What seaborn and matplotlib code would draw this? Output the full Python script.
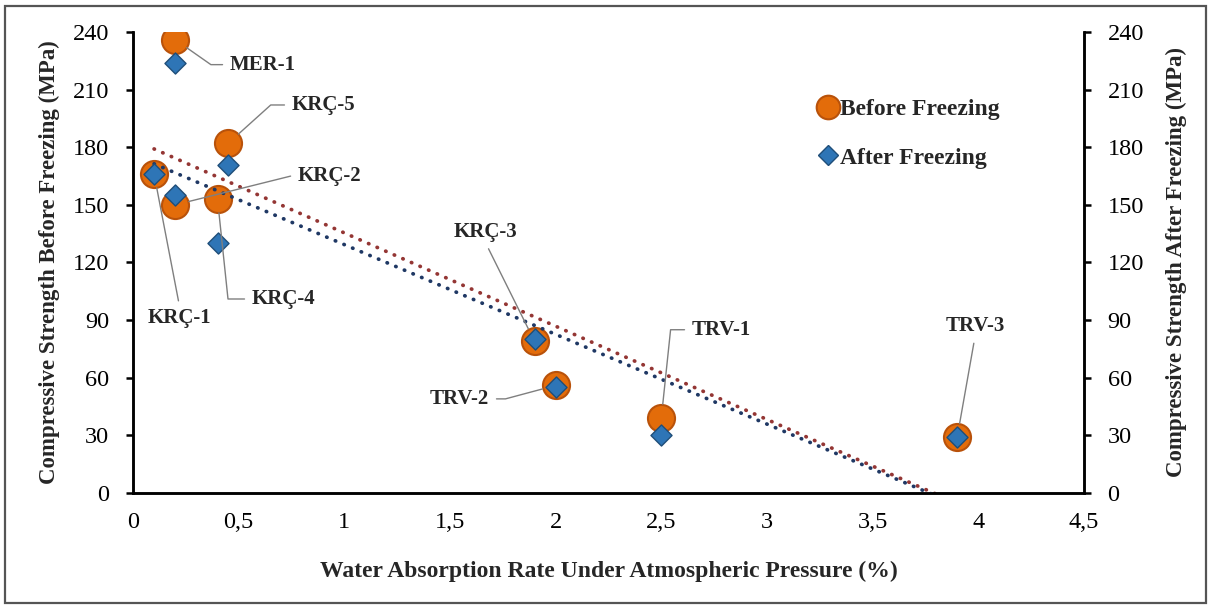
import numpy as np
import pandas as pd
import seaborn as sns
import matplotlib.pyplot as plt
from matplotlib.lines import Line2D
from matplotlib.patches import Rectangle

samples = ['MER-1', 'KRÇ-5', 'KRÇ-1', 'KRÇ-2', 'KRÇ-4', 'KRÇ-3', 'TRV-2', 'TRV-1', 'TRV-3']
water_abs = [0.2, 0.45, 0.1, 0.2, 0.4, 1.9, 2.0, 2.5, 3.9]
before_frz = [236, 182, 166, 150, 153, 79, 56, 39, 29]
after_frz = [224, 171, 166, 155, 130, 80, 55, 30, 29]

# label text positions (data coords), alignment and leader angle
lab_pos = {'MER-1': (0.459, 223, 'left', 145),
           'KRÇ-5': (0.752, 202, 'left', 42),
           'KRÇ-2': (0.781, 165, 'left', 14),
           'KRÇ-1': (0.222, 91, 'center', None),
           'KRÇ-4': (0.563, 101, 'left', 96),
           'KRÇ-3': (1.666, 136, 'center', None),
           'TRV-2': (1.685, 49, 'right', 15),
           'TRV-1': (2.645, 85, 'left', 84),
           'TRV-3': (3.985, 87, 'center', None)}

df = pd.DataFrame({'sample': samples, 'wa': water_abs,
                   'before': before_frz, 'after': after_frz})

sns.set_style('white')
plt.rcParams['font.family'] = ['Liberation Serif', 'DejaVu Serif']

orange = '#E36C0A'
orange_edge = '#B9520A'
blue = '#2E75B6'
blue_edge = '#1F4E79'

fig = plt.figure(figsize=(12.11, 6.07), dpi=100)
ax = fig.add_axes([0.1098, 0.1878, 0.7853, 0.7595])
ax2 = ax.twinx()

dots = (0, (0.1, 2.4))
sns.regplot(x='wa', y='before', data=df, ax=ax, scatter=False, ci=None, truncate=True,
            line_kws=dict(color='#943634', ls=dots, lw=2.7, dash_capstyle='round'))
sns.regplot(x='wa', y='after', data=df, ax=ax2, scatter=False, ci=None, truncate=True,
            line_kws=dict(color='#1F3864', ls=dots, lw=2.7, dash_capstyle='round'))

sns.scatterplot(x='wa', y='before', data=df, ax=ax, marker='o', s=380,
                color=orange, edgecolor=orange_edge, linewidth=1.5, zorder=3)
sns.scatterplot(x='wa', y='after', data=df, ax=ax2, marker='D', s=115,
                color=blue, edgecolor=blue_edge, linewidth=1.0, zorder=3)

for a in (ax, ax2):
    a.set_xlim(0, 4.5)
    a.set_ylim(0, 240)
    a.set_yticks(np.arange(0, 241, 30))
    for sp in a.spines.values():
        sp.set_linewidth(1.8)
        sp.set_color('black')
    a.spines['top'].set_visible(False)
    a.tick_params(direction='out', length=5, width=1.8, labelsize=17.5, colors='black')

ax.set_xticks(np.arange(0, 4.51, 0.5))
ax.set_xticklabels(['0', '0,5', '1', '1,5', '2', '2,5', '3', '3,5', '4', '4,5'])
ax.tick_params(axis='x', pad=9)
ax.tick_params(axis='y', pad=12)
ax2.tick_params(axis='y', pad=12)

ax.set_xlabel('Water Absorption Rate Under Atmospheric Pressure (%)', fontsize=17,
              fontweight='bold', labelpad=20)
ax.set_ylabel('Compressive Strength Before Freezing (MPa)', fontsize=16.5,
              fontweight='bold', labelpad=9)
ax2.set_ylabel('Compressive Strength After Freezing (MPa)', fontsize=16.5,
               fontweight='bold', labelpad=16)

for name, x, y in zip(samples, water_abs, before_frz):
    tx, ty, ha, ang = lab_pos[name]
    if ang is None:
        rel = (0.5, 1.0) if ty < y else (0.5, 0.0)
        conn = 'arc3'
    else:
        rel = (0.0, 0.5) if ha == 'left' else (1.0, 0.5)
        conn = 'angle,angleA=0,angleB=%d,rad=0' % ang
    ax2.annotate(name, xy=(x, y), xytext=(tx, ty), ha=ha, va='center',
                 fontsize=15, fontweight='bold', zorder=5,
                 arrowprops=dict(arrowstyle='-', color='#7F7F7F', lw=1.0,
                                 connectionstyle=conn, relpos=rel,
                                 shrinkA=3, shrinkB=10))

handles = [Line2D([], [], ls='none', marker='o', ms=17, mfc=orange, mec=orange_edge, mew=1.5),
           Line2D([], [], ls='none', marker='D', ms=10, mfc=blue, mec=blue_edge, mew=1.0)]
leg = ax2.legend(handles, ['Before Freezing', 'After Freezing'], loc='upper left',
                 bbox_to_anchor=(0.699, 0.902), frameon=False, handletextpad=0.1,
                 labelspacing=1.15, handlelength=0.8, prop=dict(size=17, weight='bold'))

fig.patches.append(Rectangle((0.0041, 0.0066), 0.9917, 0.9835, transform=fig.transFigure,
                             fill=False, ec='#555555', lw=1.6))

fig.savefig('out.png', dpi=100)
